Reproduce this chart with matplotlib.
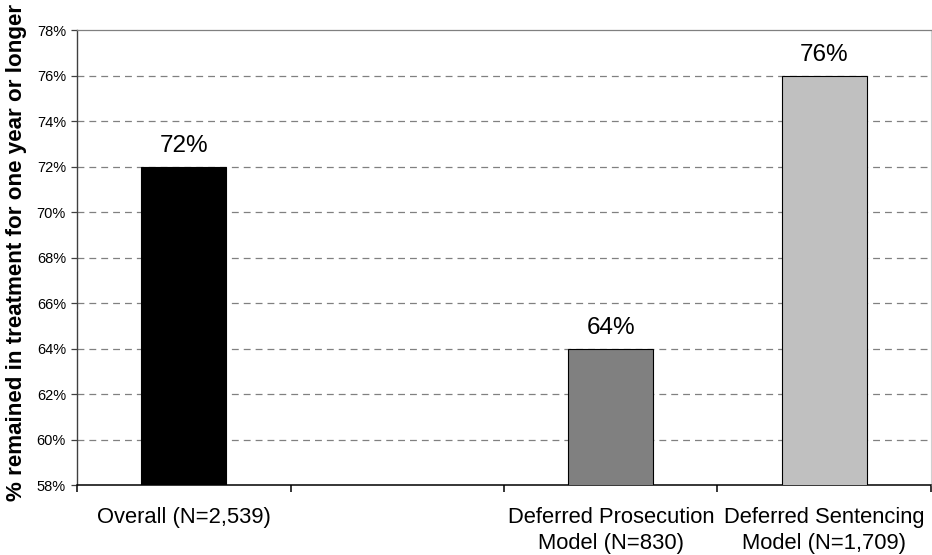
import matplotlib
matplotlib.use("Agg")
import matplotlib.pyplot as plt
from matplotlib.ticker import FixedLocator, FuncFormatter

plt.rcParams['font.family'] = ['Liberation Sans', 'DejaVu Sans']

categories = ["Overall (N=2,539)", "", "Deferred Prosecution\nModel (N=830)",
              "Deferred Sentencing\nModel (N=1,709)"]
values = [72, None, 64, 76]
colors = ["#000000", None, "#808080", "#C0C0C0"]
y_ticks = [58, 60, 62, 64, 66, 68, 70, 72, 74, 76, 78]
y_label = "% remained in treatment for one year or longer"

fig = plt.figure(figsize=(9.32, 5.55), dpi=100)
ax = fig.add_axes([77 / 932, 1 - 485 / 555, 854 / 932, 455 / 555])

ax.set_xlim(-0.5, len(categories) - 0.5)
ax.set_ylim(y_ticks[0], y_ticks[-1])

for i, (v, c) in enumerate(zip(values, colors)):
    if v is None:
        continue
    ax.bar(i, v, width=0.4, color=c, edgecolor="#000000", linewidth=0.8, zorder=3)
    ax.annotate(f"{v}%", xy=(i, v), xytext=(0, 10.5), textcoords="offset points",
                ha="center", va="baseline", fontsize=17.5, zorder=4)

# dashed gridlines at each tick except the top, which is the frame
for t in y_ticks[1:-1]:
    ax.axhline(t, color="#808080", linewidth=0.9, linestyle=(0, (5.5, 4)), zorder=1)

ax.yaxis.set_major_locator(FixedLocator(y_ticks))
ax.yaxis.set_major_formatter(FuncFormatter(lambda v, p: f"{v:.0f}%"))
ax.tick_params(axis="y", direction="out", length=4, width=0.9, pad=4,
               labelsize=10.5, color="#404040")

# tick marks at category boundaries, labels centred in each slot
ax.xaxis.set_major_locator(FixedLocator([i - 0.5 for i in range(len(categories) + 1)]))
ax.xaxis.set_major_formatter(FuncFormatter(lambda v, p: ""))
ax.xaxis.set_minor_locator(FixedLocator(list(range(len(categories)))))
ax.set_xticklabels(categories, minor=True, linespacing=1.33)
ax.tick_params(axis="x", which="major", direction="out", length=5, width=1.1, color="#000000")
ax.tick_params(axis="x", which="minor", length=0, pad=15.5, labelsize=15.8)

ax.spines["left"].set_color("#404040")
ax.spines["left"].set_linewidth(1.0)
ax.spines["bottom"].set_color("#000000")
ax.spines["bottom"].set_linewidth(1.1)
ax.spines["top"].set_color("#808080")
ax.spines["top"].set_linewidth(0.9)
ax.spines["right"].set_color("#D0D0D0")
ax.spines["right"].set_linewidth(0.8)

fig.text(17 / 932, 1 - 252 / 555, y_label, rotation=90, ha="center", va="center",
         fontsize=16.1, fontweight="bold")

fig.savefig("out.png", dpi=100)
